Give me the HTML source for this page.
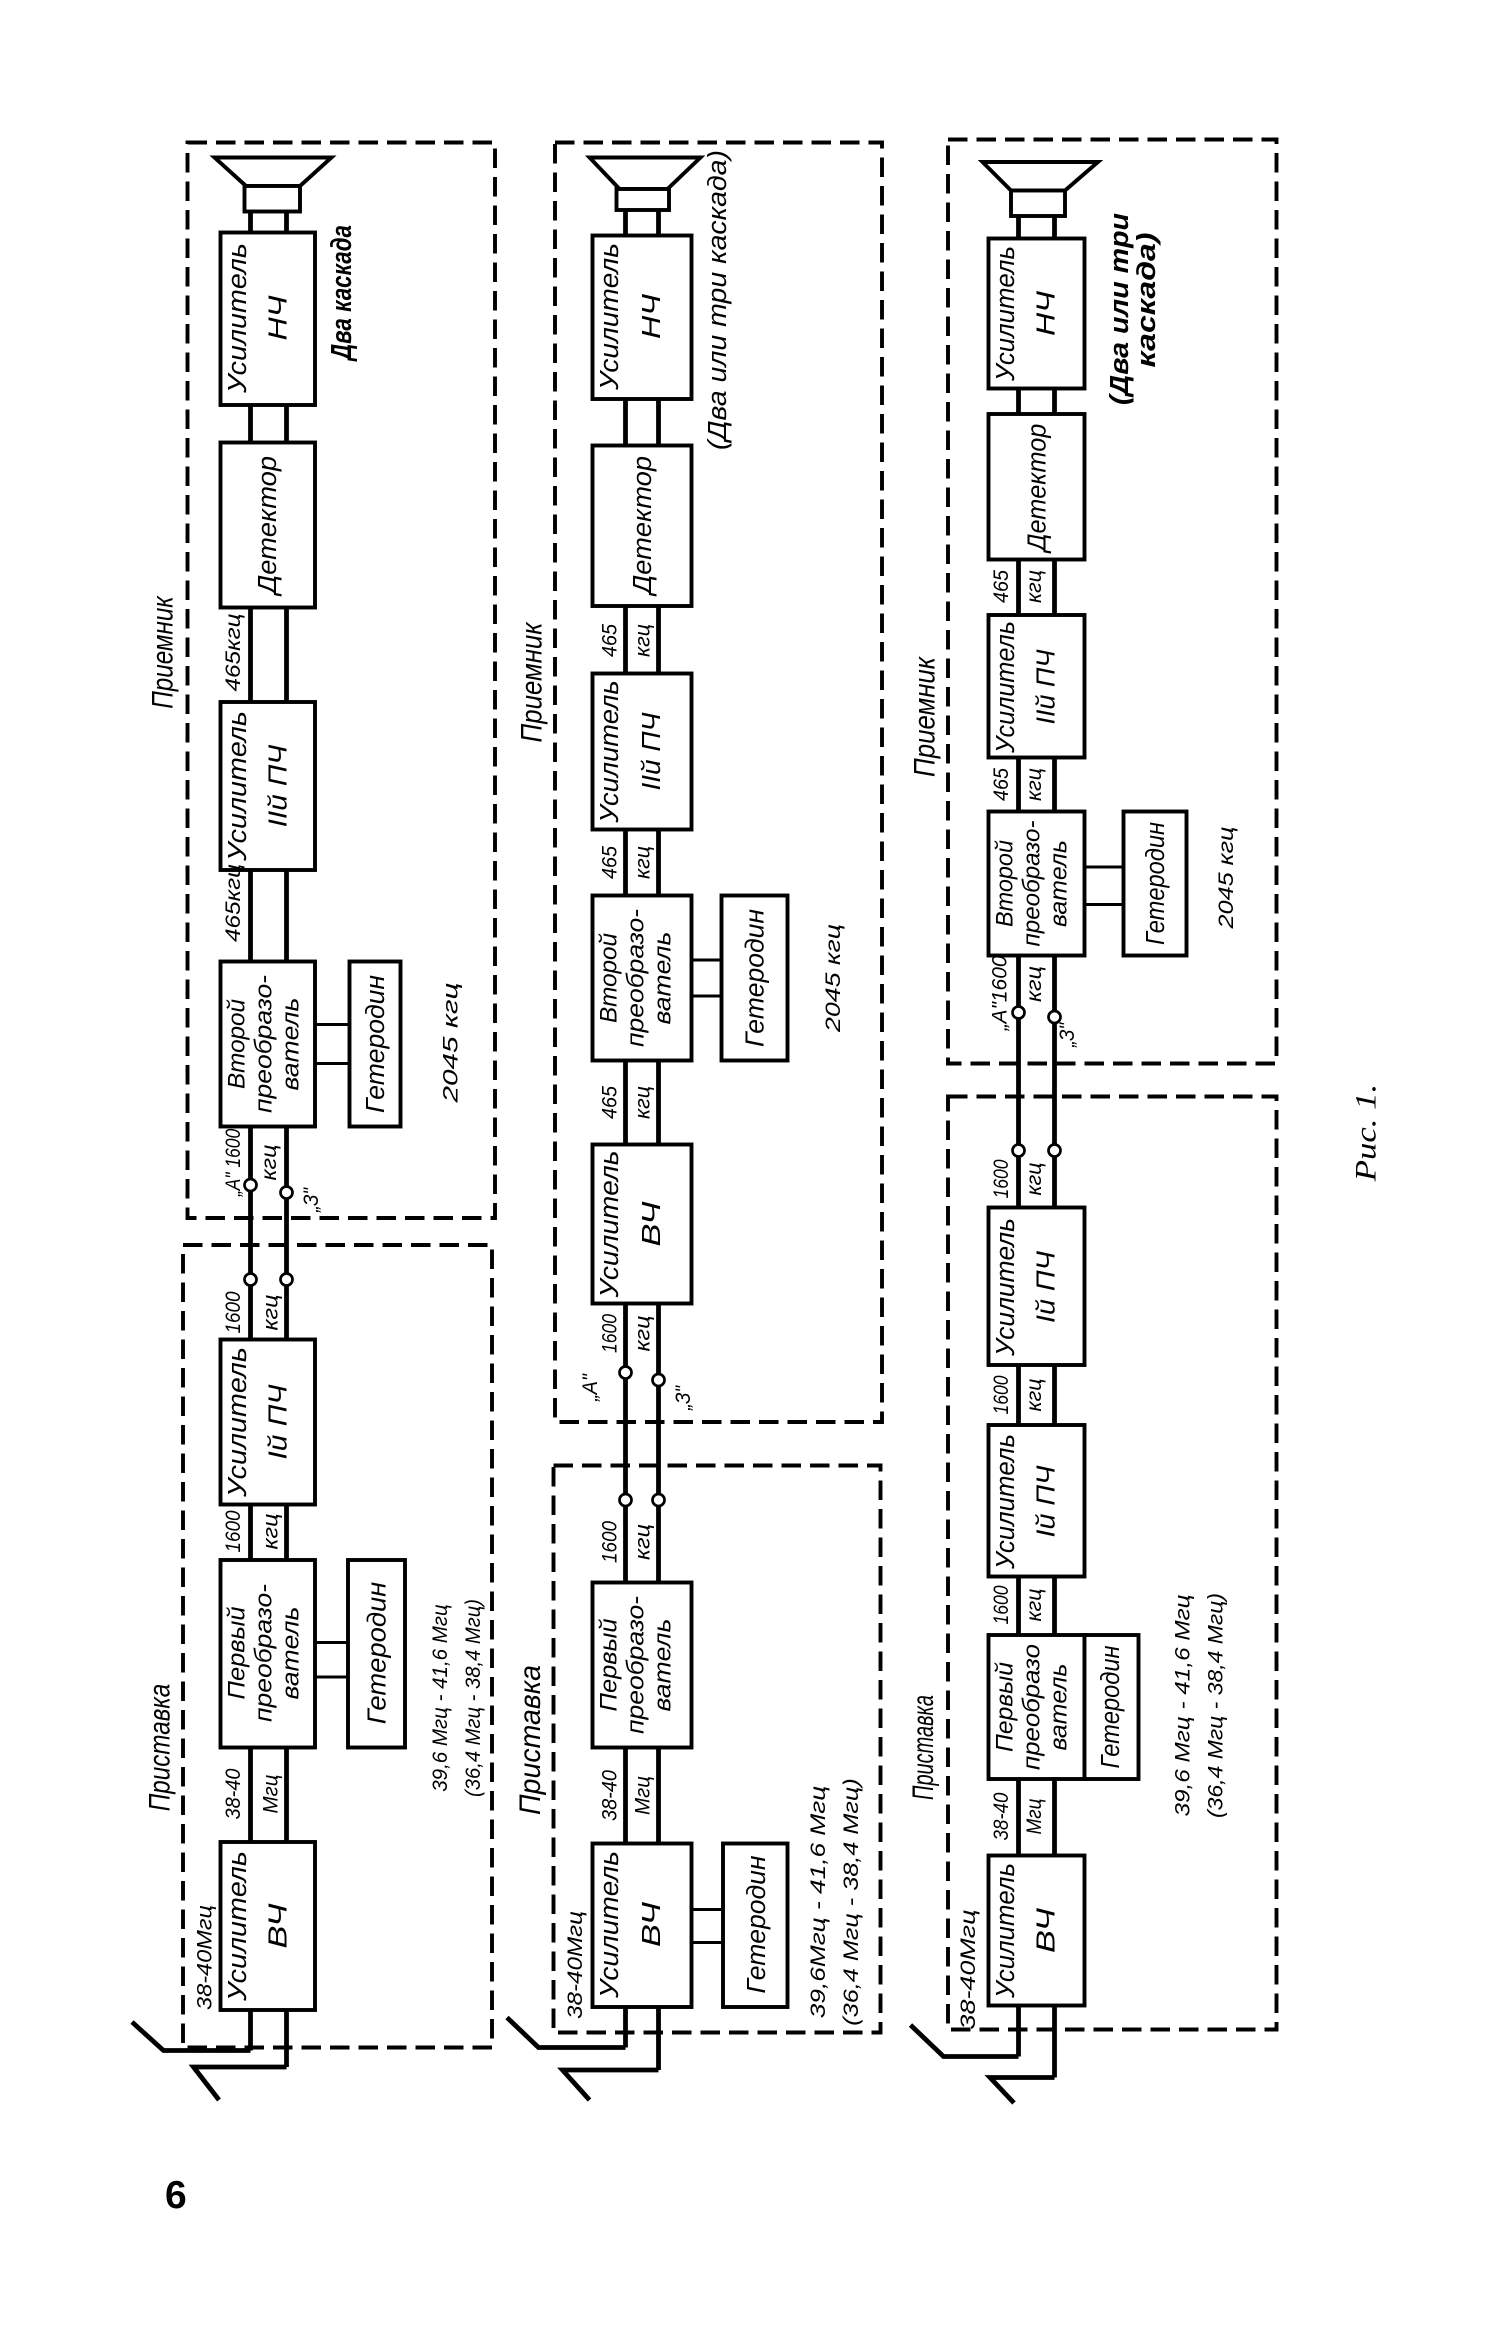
<!DOCTYPE html>
<html><head><meta charset="utf-8"><style>
html,body{margin:0;padding:0;background:#fff;}
svg{display:block;}
text{font-family:"Liberation Sans Narrow","Liberation Sans","DejaVu Sans",sans-serif;font-style:italic;fill:#000;}
.b{fill:#fff;stroke:#000;stroke-width:2.6;}
.d{fill:none;stroke:#000;stroke-width:2.6;stroke-dasharray:13,6;}
.w{fill:none;stroke:#000;stroke-width:3.2;}
.n{fill:none;stroke:#000;stroke-width:2;}
.c{fill:#fff;stroke:#000;stroke-width:1.8;}
</style></head><body>
<svg width="1500" height="2351" viewBox="0 0 1000 1567.33" xmlns="http://www.w3.org/2000/svg">
<!-- ============ COLUMN 1 ============ -->
<rect class="d" x="125" y="95" width="205" height="717"/>
<rect class="d" x="122" y="830" width="206" height="535"/>
<line class="w" x1="167" y1="141" x2="167" y2="1367"/>
<line class="w" x1="191" y1="141" x2="191" y2="1378"/>
<polyline class="w" points="167,1367 109,1367 88,1348"/>
<polyline class="w" points="191,1378 129,1378 146,1400"/>
<polygon class="b" points="143,105 221,105 200,124 164,124"/>
<rect class="b" x="163" y="124" width="37" height="17"/>
<rect class="b" x="147" y="155" width="63" height="115"/>
<rect class="b" x="147" y="295" width="63" height="110"/>
<rect class="b" x="147" y="468" width="63" height="112"/>
<rect class="b" x="147" y="641" width="63" height="110"/>
<rect class="b" x="233" y="641" width="34" height="110"/>
<line class="n" x1="210" y1="683" x2="233" y2="683"/>
<line class="n" x1="210" y1="709" x2="233" y2="709"/>
<rect class="b" x="147" y="893" width="63" height="110"/>
<rect class="b" x="147" y="1040" width="63" height="125"/>
<rect class="b" x="232" y="1040" width="38" height="125"/>
<line class="n" x1="210" y1="1095" x2="232" y2="1095"/>
<line class="n" x1="210" y1="1118" x2="232" y2="1118"/>
<rect class="b" x="147" y="1228" width="63" height="112"/>
<circle class="c" cx="167" cy="790" r="4"/><circle class="c" cx="191" cy="795" r="4"/>
<circle class="c" cx="167" cy="853" r="4"/><circle class="c" cx="191" cy="853" r="4"/>
<g font-size="17">
<text transform="translate(164,212) rotate(-90)" text-anchor="middle" textLength="100" lengthAdjust="spacingAndGlyphs">Усилитель</text>
<text transform="translate(191,212) rotate(-90)" text-anchor="middle" textLength="30" lengthAdjust="spacingAndGlyphs">НЧ</text>
<text transform="translate(184,350) rotate(-90)" text-anchor="middle" textLength="92" lengthAdjust="spacingAndGlyphs">Детектор</text>
<text transform="translate(164,524) rotate(-90)" text-anchor="middle" textLength="100" lengthAdjust="spacingAndGlyphs">Усилитель</text>
<text transform="translate(191,524) rotate(-90)" text-anchor="middle" textLength="55" lengthAdjust="spacingAndGlyphs">IIй ПЧ</text>
<text transform="translate(256,696) rotate(-90)" text-anchor="middle" textLength="92" lengthAdjust="spacingAndGlyphs">Гетеродин</text>
<text transform="translate(164,948) rotate(-90)" text-anchor="middle" textLength="100" lengthAdjust="spacingAndGlyphs">Усилитель</text>
<text transform="translate(191,948) rotate(-90)" text-anchor="middle" textLength="50" lengthAdjust="spacingAndGlyphs">Iй ПЧ</text>
<text transform="translate(257,1102) rotate(-90)" text-anchor="middle" textLength="95" lengthAdjust="spacingAndGlyphs">Гетеродин</text>
<text transform="translate(164,1284) rotate(-90)" text-anchor="middle" textLength="100" lengthAdjust="spacingAndGlyphs">Усилитель</text>
<text transform="translate(191,1284) rotate(-90)" text-anchor="middle" textLength="30" lengthAdjust="spacingAndGlyphs">ВЧ</text>
</g>
<g font-size="16">
<text transform="translate(163,696) rotate(-90)" text-anchor="middle" textLength="60" lengthAdjust="spacingAndGlyphs">Второй</text>
<text transform="translate(181,696) rotate(-90)" text-anchor="middle" textLength="92" lengthAdjust="spacingAndGlyphs">преобразо-</text>
<text transform="translate(199,696) rotate(-90)" text-anchor="middle" textLength="62" lengthAdjust="spacingAndGlyphs">ватель</text>
<text transform="translate(163,1102) rotate(-90)" text-anchor="middle" textLength="62" lengthAdjust="spacingAndGlyphs">Первый</text>
<text transform="translate(181,1102) rotate(-90)" text-anchor="middle" textLength="92" lengthAdjust="spacingAndGlyphs">преобразо-</text>
<text transform="translate(199,1102) rotate(-90)" text-anchor="middle" textLength="62" lengthAdjust="spacingAndGlyphs">ватель</text>
</g>
<g font-size="14">
<text transform="translate(160,435) rotate(-90)" text-anchor="middle" textLength="52" lengthAdjust="spacingAndGlyphs">465кгц</text>
<text transform="translate(160,602) rotate(-90)" text-anchor="middle" textLength="52" lengthAdjust="spacingAndGlyphs">465кгц</text>
<text transform="translate(160,775) rotate(-90)" text-anchor="middle" textLength="45" lengthAdjust="spacingAndGlyphs">„А" 1600</text>
<text transform="translate(184,775) rotate(-90)" text-anchor="middle" textLength="24" lengthAdjust="spacingAndGlyphs">кгц</text>
<text transform="translate(212,800) rotate(-90)" text-anchor="middle" textLength="16" lengthAdjust="spacingAndGlyphs">„З"</text>
<text transform="translate(160,875) rotate(-90)" text-anchor="middle" textLength="28" lengthAdjust="spacingAndGlyphs">1600</text>
<text transform="translate(185,875) rotate(-90)" text-anchor="middle" textLength="24" lengthAdjust="spacingAndGlyphs">кгц</text>
<text transform="translate(160,1021) rotate(-90)" text-anchor="middle" textLength="28" lengthAdjust="spacingAndGlyphs">1600</text>
<text transform="translate(185,1021) rotate(-90)" text-anchor="middle" textLength="24" lengthAdjust="spacingAndGlyphs">кгц</text>
<text transform="translate(160,1196) rotate(-90)" text-anchor="middle" textLength="34" lengthAdjust="spacingAndGlyphs">38-40</text>
<text transform="translate(185,1196) rotate(-90)" text-anchor="middle" textLength="26" lengthAdjust="spacingAndGlyphs">Мгц</text>
<text transform="translate(141,1305) rotate(-90)" text-anchor="middle" textLength="70" lengthAdjust="spacingAndGlyphs">38-40Мгц</text>
<text transform="translate(305,695) rotate(-90)" text-anchor="middle" textLength="80" lengthAdjust="spacingAndGlyphs">2045 кгц</text>
<text transform="translate(298,1132) rotate(-90)" text-anchor="middle" textLength="125" lengthAdjust="spacingAndGlyphs">39,6 Мгц - 41,6 Мгц</text>
<text transform="translate(320,1132) rotate(-90)" text-anchor="middle" textLength="132" lengthAdjust="spacingAndGlyphs">(36,4 Мгц - 38,4 Мгц)</text>
</g>
<text font-size="20" transform="translate(115,435) rotate(-90)" text-anchor="middle" textLength="75" lengthAdjust="spacingAndGlyphs">Приемник</text>
<text font-size="20" transform="translate(113,1165) rotate(-90)" text-anchor="middle" textLength="85" lengthAdjust="spacingAndGlyphs">Приставка</text>
<text font-size="19" font-weight="bold" transform="translate(234,195) rotate(-90)" text-anchor="middle" textLength="90" lengthAdjust="spacingAndGlyphs">Два каскада</text>

<!-- ============ COLUMN 2 ============ -->
<rect class="d" x="370" y="95" width="218" height="853"/>
<rect class="d" x="369" y="977" width="218" height="378"/>
<line class="w" x1="417" y1="140" x2="417" y2="1365"/>
<line class="w" x1="439" y1="140" x2="439" y2="1380"/>
<polyline class="w" points="417,1365 359,1365 338,1345"/>
<polyline class="w" points="439,1380 375,1380 393,1400"/>
<polygon class="b" points="393,105 467,105 445,126 413,126"/>
<rect class="b" x="411" y="126" width="35" height="14"/>
<rect class="b" x="395" y="157" width="66" height="109"/>
<rect class="b" x="395" y="297" width="66" height="107"/>
<rect class="b" x="395" y="449" width="66" height="104"/>
<rect class="b" x="395" y="597" width="66" height="110"/>
<rect class="b" x="481" y="597" width="44" height="110"/>
<line class="n" x1="461" y1="640" x2="481" y2="640"/>
<line class="n" x1="461" y1="664" x2="481" y2="664"/>
<rect class="b" x="395" y="763" width="66" height="106"/>
<rect class="b" x="395" y="1055" width="66" height="110"/>
<rect class="b" x="395" y="1229" width="66" height="109"/>
<rect class="b" x="482" y="1229" width="43" height="109"/>
<line class="n" x1="461" y1="1273" x2="482" y2="1273"/>
<line class="n" x1="461" y1="1295" x2="482" y2="1295"/>
<circle class="c" cx="417" cy="915" r="4"/><circle class="c" cx="439" cy="920" r="4"/>
<circle class="c" cx="417" cy="1000" r="4"/><circle class="c" cx="439" cy="1000" r="4"/>
<g font-size="17">
<text transform="translate(412,211) rotate(-90)" text-anchor="middle" textLength="98" lengthAdjust="spacingAndGlyphs">Усилитель</text>
<text transform="translate(440,211) rotate(-90)" text-anchor="middle" textLength="30" lengthAdjust="spacingAndGlyphs">НЧ</text>
<text transform="translate(434,350) rotate(-90)" text-anchor="middle" textLength="92" lengthAdjust="spacingAndGlyphs">Детектор</text>
<text transform="translate(412,501) rotate(-90)" text-anchor="middle" textLength="95" lengthAdjust="spacingAndGlyphs">Усилитель</text>
<text transform="translate(440,501) rotate(-90)" text-anchor="middle" textLength="52" lengthAdjust="spacingAndGlyphs">IIй ПЧ</text>
<text transform="translate(509,652) rotate(-90)" text-anchor="middle" textLength="92" lengthAdjust="spacingAndGlyphs">Гетеродин</text>
<text transform="translate(412,816) rotate(-90)" text-anchor="middle" textLength="98" lengthAdjust="spacingAndGlyphs">Усилитель</text>
<text transform="translate(440,816) rotate(-90)" text-anchor="middle" textLength="30" lengthAdjust="spacingAndGlyphs">ВЧ</text>
<text transform="translate(412,1283) rotate(-90)" text-anchor="middle" textLength="98" lengthAdjust="spacingAndGlyphs">Усилитель</text>
<text transform="translate(440,1283) rotate(-90)" text-anchor="middle" textLength="30" lengthAdjust="spacingAndGlyphs">ВЧ</text>
<text transform="translate(510,1283) rotate(-90)" text-anchor="middle" textLength="92" lengthAdjust="spacingAndGlyphs">Гетеродин</text>
</g>
<g font-size="16">
<text transform="translate(411,652) rotate(-90)" text-anchor="middle" textLength="60" lengthAdjust="spacingAndGlyphs">Второй</text>
<text transform="translate(429,652) rotate(-90)" text-anchor="middle" textLength="92" lengthAdjust="spacingAndGlyphs">преобразо-</text>
<text transform="translate(447,652) rotate(-90)" text-anchor="middle" textLength="62" lengthAdjust="spacingAndGlyphs">ватель</text>
<text transform="translate(411,1110) rotate(-90)" text-anchor="middle" textLength="62" lengthAdjust="spacingAndGlyphs">Первый</text>
<text transform="translate(429,1110) rotate(-90)" text-anchor="middle" textLength="92" lengthAdjust="spacingAndGlyphs">преобразо-</text>
<text transform="translate(447,1110) rotate(-90)" text-anchor="middle" textLength="62" lengthAdjust="spacingAndGlyphs">ватель</text>
</g>
<g font-size="14">
<text transform="translate(411,427) rotate(-90)" text-anchor="middle" textLength="22" lengthAdjust="spacingAndGlyphs">465</text>
<text transform="translate(433,427) rotate(-90)" text-anchor="middle" textLength="22" lengthAdjust="spacingAndGlyphs">кгц</text>
<text transform="translate(411,575) rotate(-90)" text-anchor="middle" textLength="22" lengthAdjust="spacingAndGlyphs">465</text>
<text transform="translate(433,575) rotate(-90)" text-anchor="middle" textLength="22" lengthAdjust="spacingAndGlyphs">кгц</text>
<text transform="translate(411,735) rotate(-90)" text-anchor="middle" textLength="22" lengthAdjust="spacingAndGlyphs">465</text>
<text transform="translate(433,735) rotate(-90)" text-anchor="middle" textLength="22" lengthAdjust="spacingAndGlyphs">кгц</text>
<text transform="translate(411,889) rotate(-90)" text-anchor="middle" textLength="26" lengthAdjust="spacingAndGlyphs">1600</text>
<text transform="translate(433,889) rotate(-90)" text-anchor="middle" textLength="24" lengthAdjust="spacingAndGlyphs">кгц</text>
<text transform="translate(398,925) rotate(-90)" text-anchor="middle" textLength="18" lengthAdjust="spacingAndGlyphs">„А"</text>
<text transform="translate(460,932) rotate(-90)" text-anchor="middle" textLength="16" lengthAdjust="spacingAndGlyphs">„З"</text>
<text transform="translate(411,1028) rotate(-90)" text-anchor="middle" textLength="28" lengthAdjust="spacingAndGlyphs">1600</text>
<text transform="translate(433,1028) rotate(-90)" text-anchor="middle" textLength="24" lengthAdjust="spacingAndGlyphs">кгц</text>
<text transform="translate(411,1197) rotate(-90)" text-anchor="middle" textLength="34" lengthAdjust="spacingAndGlyphs">38-40</text>
<text transform="translate(433,1197) rotate(-90)" text-anchor="middle" textLength="26" lengthAdjust="spacingAndGlyphs">Мгц</text>
<text transform="translate(388,1310) rotate(-90)" text-anchor="middle" textLength="72" lengthAdjust="spacingAndGlyphs">38-40Мгц</text>
<text transform="translate(560,652) rotate(-90)" text-anchor="middle" textLength="72" lengthAdjust="spacingAndGlyphs">2045 кгц</text>
<text transform="translate(550,1268) rotate(-90)" text-anchor="middle" textLength="155" lengthAdjust="spacingAndGlyphs">39,6Мгц - 41,6 Мгц</text>
<text transform="translate(572,1268) rotate(-90)" text-anchor="middle" textLength="165" lengthAdjust="spacingAndGlyphs">(36,4 Мгц - 38,4 Мгц)</text>
</g>
<text font-size="20" transform="translate(361,455) rotate(-90)" text-anchor="middle" textLength="80" lengthAdjust="spacingAndGlyphs">Приемник</text>
<text font-size="20" transform="translate(360,1160) rotate(-90)" text-anchor="middle" textLength="100" lengthAdjust="spacingAndGlyphs">Приставка</text>
<text font-size="17" transform="translate(484,200) rotate(-90)" text-anchor="middle" textLength="200" lengthAdjust="spacingAndGlyphs">(Два или три каскада)</text>

<!-- ============ COLUMN 3 ============ -->
<rect class="d" x="632" y="93" width="219" height="616"/>
<rect class="d" x="632" y="731" width="219" height="622"/>
<line class="w" x1="679" y1="144" x2="679" y2="1371"/>
<line class="w" x1="703" y1="144" x2="703" y2="1385"/>
<polyline class="w" points="679,1371 629,1371 607,1350"/>
<polyline class="w" points="703,1385 660,1385 676,1402"/>
<polygon class="b" points="655,108 732,108 710,127 674,127"/>
<rect class="b" x="674" y="127" width="36" height="17"/>
<rect class="b" x="659" y="159" width="64" height="100"/>
<rect class="b" x="659" y="276" width="64" height="97"/>
<rect class="b" x="659" y="410" width="64" height="95"/>
<rect class="b" x="659" y="541" width="64" height="96"/>
<rect class="b" x="749" y="541" width="42" height="96"/>
<line class="n" x1="723" y1="578" x2="749" y2="578"/>
<line class="n" x1="723" y1="603" x2="749" y2="603"/>
<rect class="b" x="659" y="805" width="64" height="105"/>
<rect class="b" x="659" y="950" width="64" height="101"/>
<rect class="b" x="659" y="1090" width="64" height="96"/>
<rect class="b" x="723" y="1090" width="36" height="96"/>
<rect class="b" x="659" y="1237" width="64" height="100"/>
<circle class="c" cx="679" cy="675" r="4"/><circle class="c" cx="703" cy="678" r="4"/>
<circle class="c" cx="679" cy="767" r="4"/><circle class="c" cx="703" cy="767" r="4"/>
<g font-size="17">
<text transform="translate(676,209) rotate(-90)" text-anchor="middle" textLength="90" lengthAdjust="spacingAndGlyphs">Усилитель</text>
<text transform="translate(703,209) rotate(-90)" text-anchor="middle" textLength="30" lengthAdjust="spacingAndGlyphs">НЧ</text>
<text transform="translate(697,325) rotate(-90)" text-anchor="middle" textLength="85" lengthAdjust="spacingAndGlyphs">Детектор</text>
<text transform="translate(676,458) rotate(-90)" text-anchor="middle" textLength="88" lengthAdjust="spacingAndGlyphs">Усилитель</text>
<text transform="translate(703,458) rotate(-90)" text-anchor="middle" textLength="50" lengthAdjust="spacingAndGlyphs">IIй ПЧ</text>
<text transform="translate(776,589) rotate(-90)" text-anchor="middle" textLength="82" lengthAdjust="spacingAndGlyphs">Гетеродин</text>
<text transform="translate(676,858) rotate(-90)" text-anchor="middle" textLength="92" lengthAdjust="spacingAndGlyphs">Усилитель</text>
<text transform="translate(703,858) rotate(-90)" text-anchor="middle" textLength="48" lengthAdjust="spacingAndGlyphs">Iй ПЧ</text>
<text transform="translate(676,1001) rotate(-90)" text-anchor="middle" textLength="90" lengthAdjust="spacingAndGlyphs">Усилитель</text>
<text transform="translate(703,1001) rotate(-90)" text-anchor="middle" textLength="48" lengthAdjust="spacingAndGlyphs">Iй ПЧ</text>
<text transform="translate(746,1138) rotate(-90)" text-anchor="middle" textLength="82" lengthAdjust="spacingAndGlyphs">Гетеродин</text>
<text transform="translate(676,1287) rotate(-90)" text-anchor="middle" textLength="90" lengthAdjust="spacingAndGlyphs">Усилитель</text>
<text transform="translate(703,1287) rotate(-90)" text-anchor="middle" textLength="30" lengthAdjust="spacingAndGlyphs">ВЧ</text>
</g>
<g font-size="16">
<text transform="translate(675,589) rotate(-90)" text-anchor="middle" textLength="58" lengthAdjust="spacingAndGlyphs">Второй</text>
<text transform="translate(693,589) rotate(-90)" text-anchor="middle" textLength="84" lengthAdjust="spacingAndGlyphs">преобразо-</text>
<text transform="translate(711,589) rotate(-90)" text-anchor="middle" textLength="58" lengthAdjust="spacingAndGlyphs">ватель</text>
<text transform="translate(675,1138) rotate(-90)" text-anchor="middle" textLength="60" lengthAdjust="spacingAndGlyphs">Первый</text>
<text transform="translate(693,1138) rotate(-90)" text-anchor="middle" textLength="84" lengthAdjust="spacingAndGlyphs">преобразо</text>
<text transform="translate(711,1138) rotate(-90)" text-anchor="middle" textLength="58" lengthAdjust="spacingAndGlyphs">ватель</text>
</g>
<g font-size="14">
<text transform="translate(672,391) rotate(-90)" text-anchor="middle" textLength="22" lengthAdjust="spacingAndGlyphs">465</text>
<text transform="translate(694,391) rotate(-90)" text-anchor="middle" textLength="22" lengthAdjust="spacingAndGlyphs">кгц</text>
<text transform="translate(672,523) rotate(-90)" text-anchor="middle" textLength="22" lengthAdjust="spacingAndGlyphs">465</text>
<text transform="translate(694,523) rotate(-90)" text-anchor="middle" textLength="22" lengthAdjust="spacingAndGlyphs">кгц</text>
<text transform="translate(671,662) rotate(-90)" text-anchor="middle" textLength="50" lengthAdjust="spacingAndGlyphs">„А"1600</text>
<text transform="translate(694,656) rotate(-90)" text-anchor="middle" textLength="24" lengthAdjust="spacingAndGlyphs">кгц</text>
<text transform="translate(716,690) rotate(-90)" text-anchor="middle" textLength="16" lengthAdjust="spacingAndGlyphs">„З"</text>
<text transform="translate(672,786) rotate(-90)" text-anchor="middle" textLength="26" lengthAdjust="spacingAndGlyphs">1600</text>
<text transform="translate(694,786) rotate(-90)" text-anchor="middle" textLength="22" lengthAdjust="spacingAndGlyphs">кгц</text>
<text transform="translate(672,930) rotate(-90)" text-anchor="middle" textLength="26" lengthAdjust="spacingAndGlyphs">1600</text>
<text transform="translate(694,930) rotate(-90)" text-anchor="middle" textLength="22" lengthAdjust="spacingAndGlyphs">кгц</text>
<text transform="translate(672,1070) rotate(-90)" text-anchor="middle" textLength="26" lengthAdjust="spacingAndGlyphs">1600</text>
<text transform="translate(694,1070) rotate(-90)" text-anchor="middle" textLength="22" lengthAdjust="spacingAndGlyphs">кгц</text>
<text transform="translate(672,1211) rotate(-90)" text-anchor="middle" textLength="32" lengthAdjust="spacingAndGlyphs">38-40</text>
<text transform="translate(694,1211) rotate(-90)" text-anchor="middle" textLength="24" lengthAdjust="spacingAndGlyphs">Мгц</text>
<text transform="translate(650,1313) rotate(-90)" text-anchor="middle" textLength="80" lengthAdjust="spacingAndGlyphs">38-40Мгц</text>
<text transform="translate(822,585) rotate(-90)" text-anchor="middle" textLength="68" lengthAdjust="spacingAndGlyphs">2045 кгц</text>
<text transform="translate(793,1137) rotate(-90)" text-anchor="middle" textLength="148" lengthAdjust="spacingAndGlyphs">39,6 Мгц - 41,6 Мгц</text>
<text transform="translate(815,1137) rotate(-90)" text-anchor="middle" textLength="150" lengthAdjust="spacingAndGlyphs">(36,4 Мгц - 38,4 Мгц)</text>
</g>
<text font-size="20" transform="translate(623,478) rotate(-90)" text-anchor="middle" textLength="80" lengthAdjust="spacingAndGlyphs">Приемник</text>
<text font-size="20" transform="translate(622,1165) rotate(-90)" text-anchor="middle" textLength="70" lengthAdjust="spacingAndGlyphs">Приставка</text>
<text font-size="17" font-weight="bold" transform="translate(752,206) rotate(-90)" text-anchor="middle" textLength="128" lengthAdjust="spacingAndGlyphs">(Два или три</text>
<text font-size="17" font-weight="bold" transform="translate(770,200) rotate(-90)" text-anchor="middle" textLength="90" lengthAdjust="spacingAndGlyphs">каскада)</text>

<!-- caption / page number -->
<text font-size="20" style="font-family:'Liberation Serif',serif" transform="translate(917,755) rotate(-90)" text-anchor="middle" textLength="65" lengthAdjust="spacingAndGlyphs">Рис. 1.</text>
<text x="110" y="1472" font-size="26" style="font-style:normal;font-family:'Liberation Sans',sans-serif;font-weight:bold">6</text>
</svg>
</body></html>
